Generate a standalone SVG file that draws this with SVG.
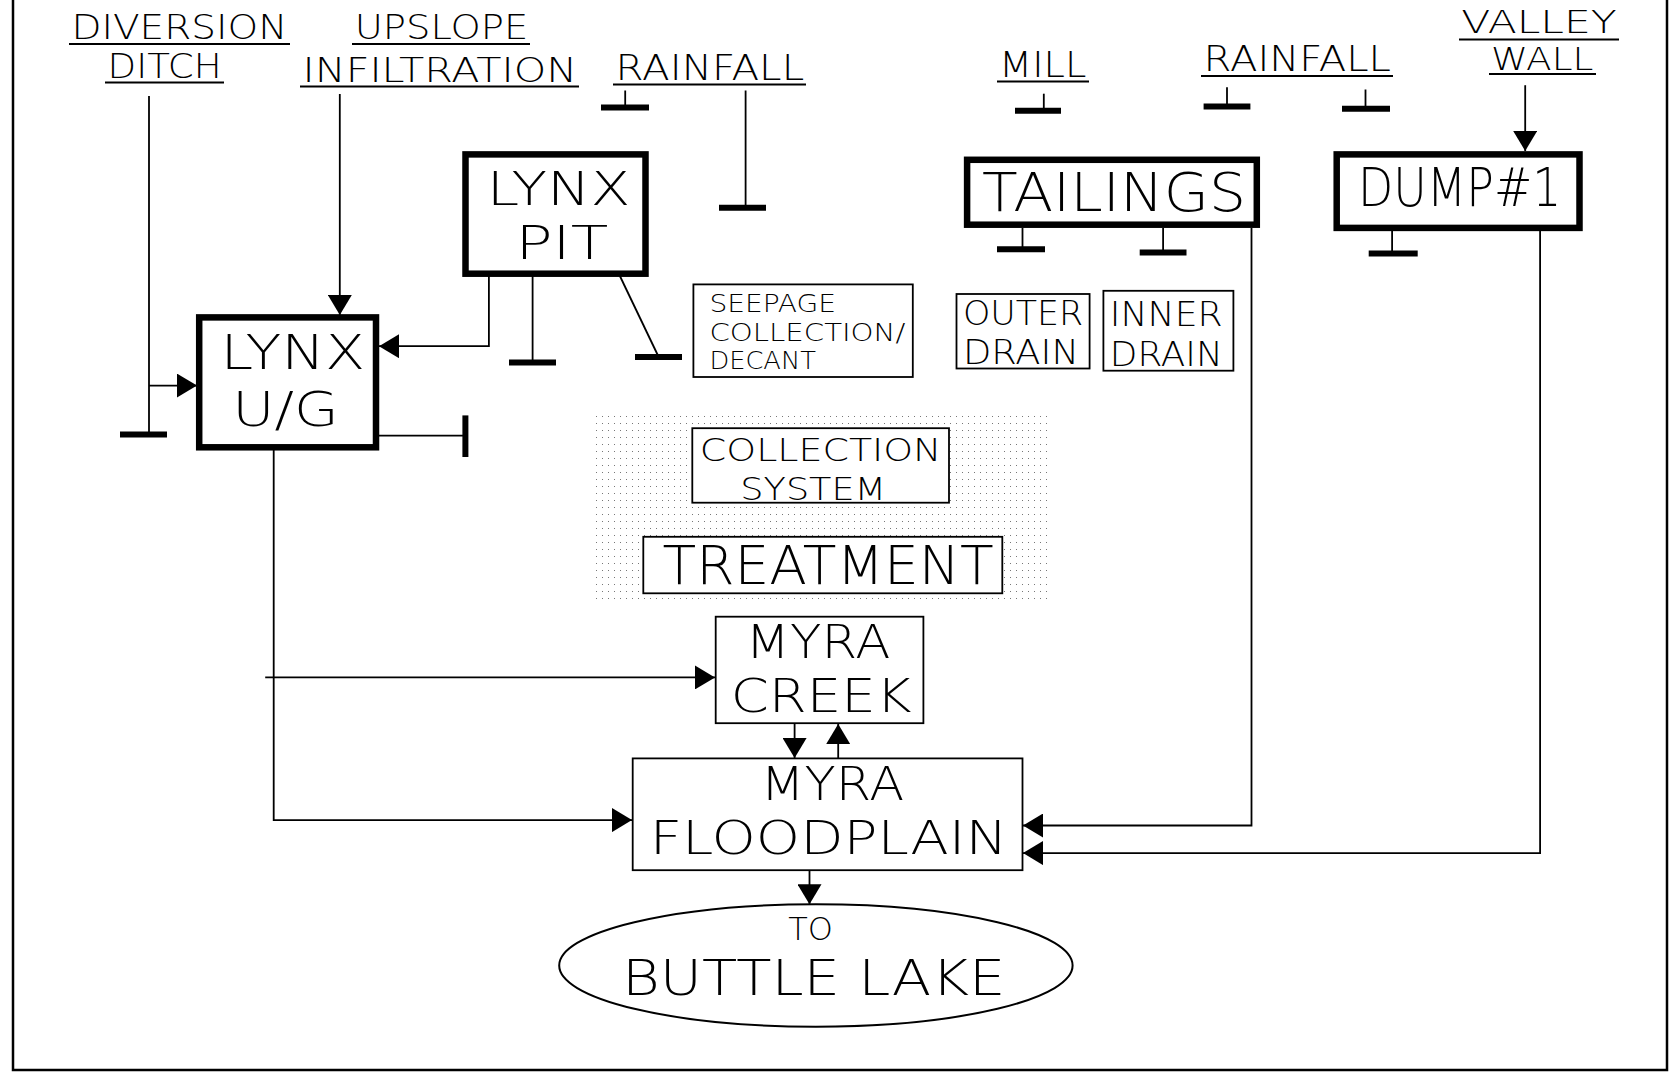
<svg xmlns="http://www.w3.org/2000/svg" width="1670" height="1075" viewBox="0 0 1670 1075">
<style>
  .t { font-family: "DejaVu Sans", "Liberation Sans", sans-serif; font-weight: 200; fill: #000; }
  .lbl { font-size: 35px; }
  .ln { stroke: #000; stroke-width: 1.8; fill: none; }
  .ul { stroke: #000; stroke-width: 2; }
  .bar { stroke: #000; stroke-width: 6; }
  .thick { fill: #fff; stroke: #000; stroke-width: 6.5; }
  .thin { fill: #fff; stroke: #000; stroke-width: 1.8; }
  .arr { stroke: #000; stroke-width: 1.8; fill: none; marker-end: url(#ah); }
</style>
<defs>
  <marker id="ah" viewBox="0 0 10 10" refX="10" refY="5" markerUnits="userSpaceOnUse" markerWidth="20" markerHeight="24" orient="auto" preserveAspectRatio="none">
    <path d="M0,0 L10,5 L0,10 z" fill="#000"/>
  </marker>
  <pattern id="dots" width="6" height="7" patternUnits="userSpaceOnUse">
    <rect x="2" y="3" width="1" height="1" fill="#777"/>
  </pattern>
</defs>
<rect width="1670" height="1075" fill="#fff"/>
<path d="M13,0 V1070 H1667 V0" stroke="#000" stroke-width="2.5" fill="none"/>

<g id="labels">
  <text class="t" font-size="33.5" x="71.4" y="38.5" textLength="216" lengthAdjust="spacingAndGlyphs">DIVERSION</text>
  <text class="t" font-size="33.5" x="107.6" y="78" textLength="114" lengthAdjust="spacingAndGlyphs">DITCH</text>
  <line class="ul" x1="69" y1="44" x2="290" y2="44"/>
  <line class="ul" x1="105" y1="82.5" x2="224" y2="82.5"/>
  <text class="t" font-size="34" x="354.7" y="39.4" textLength="173.6" lengthAdjust="spacingAndGlyphs">UPSLOPE</text>
  <text class="t" font-size="34" x="302.5" y="82" textLength="274.8" lengthAdjust="spacingAndGlyphs">INFILTRATION</text>
  <line class="ul" x1="352" y1="44" x2="530" y2="44"/>
  <line class="ul" x1="300" y1="86.5" x2="579" y2="86.5"/>
  <text class="t lbl" x="615.6" y="79.9" textLength="188.6" lengthAdjust="spacingAndGlyphs">RAINFALL</text>
  <line class="ul" x1="613" y1="84.5" x2="806" y2="84.5"/>
  <text class="t lbl" x="999.1" y="76.7" textLength="87.3" lengthAdjust="spacingAndGlyphs">MILL</text>
  <line class="ul" x1="997" y1="81.5" x2="1089" y2="81.5"/>
  <text class="t lbl" x="1203.6" y="71.4" textLength="187.4" lengthAdjust="spacingAndGlyphs">RAINFALL</text>
  <line class="ul" x1="1201" y1="76" x2="1393" y2="76"/>
  <text class="t" font-size="31.5" x="1461.3" y="33" textLength="155.5" lengthAdjust="spacingAndGlyphs">VALLEY</text>
  <text class="t" font-size="31.5" x="1491.1" y="70" textLength="102.3" lengthAdjust="spacingAndGlyphs">WALL</text>
  <line class="ul" x1="1459" y1="39.5" x2="1619" y2="39.5"/>
  <line class="ul" x1="1489" y1="74" x2="1596" y2="74"/>
</g>

<g id="collection-area">
  <rect x="593" y="412" width="456" height="191" fill="url(#dots)"/>
</g>

<g id="connectors">
  <line class="ln" x1="149" y1="96" x2="149" y2="434"/>
  <line class="bar" x1="120" y1="434.6" x2="167" y2="434.6"/>
  <line class="arr" x1="149" y1="385.6" x2="197" y2="385.6"/>
  <line class="arr" x1="339.8" y1="94" x2="339.8" y2="315"/>
  <polyline class="arr" points="488.9,276 488.9,346.2 379,346.2"/>
  <line class="ln" x1="532.6" y1="276" x2="532.6" y2="362"/>
  <line class="bar" x1="509" y1="362.5" x2="556" y2="362.5"/>
  <line class="ln" x1="619.9" y1="276" x2="658.2" y2="356"/>
  <line class="bar" x1="635" y1="357" x2="682" y2="357"/>
  <line class="ln" x1="625.2" y1="90.5" x2="625.2" y2="107"/>
  <line class="bar" x1="601" y1="107.6" x2="649" y2="107.6"/>
  <line class="ln" x1="745.6" y1="90.5" x2="745.6" y2="207"/>
  <line class="bar" x1="719" y1="207.7" x2="766" y2="207.7"/>
  <line class="ln" x1="378" y1="435.6" x2="465" y2="435.6"/>
  <line class="bar" x1="465.4" y1="415.4" x2="465.4" y2="457"/>
  <polyline class="arr" points="273.7,450 273.7,820.1 632,820.1"/>
  <line class="arr" x1="265.2" y1="677.4" x2="715" y2="677.4"/>
  <line class="arr" x1="794.6" y1="723.2" x2="794.6" y2="758"/>
  <line class="arr" x1="838.2" y1="758.4" x2="838.2" y2="724"/>
  <line class="arr" x1="809.5" y1="870.2" x2="809.5" y2="904.3"/>
  <polyline class="arr" points="1251.5,228 1251.5,825.5 1023,825.5"/>
  <polyline class="arr" points="1540.1,231 1540.1,853.1 1023,853.1"/>
  <line class="arr" x1="1525.2" y1="85.2" x2="1525.2" y2="151"/>
  <line class="ln" x1="1043.8" y1="93.7" x2="1043.8" y2="110"/>
  <line class="bar" x1="1015" y1="110.8" x2="1061" y2="110.8"/>
  <line class="ln" x1="1227" y1="87.3" x2="1227" y2="106"/>
  <line class="bar" x1="1203.6" y1="106.5" x2="1250.4" y2="106.5"/>
  <line class="ln" x1="1365.5" y1="89.5" x2="1365.5" y2="108"/>
  <line class="bar" x1="1342" y1="108.7" x2="1390" y2="108.7"/>
  <line class="ln" x1="1022.5" y1="228" x2="1022.5" y2="249"/>
  <line class="bar" x1="997" y1="249.2" x2="1045" y2="249.2"/>
  <line class="ln" x1="1163.1" y1="228" x2="1163.1" y2="252"/>
  <line class="bar" x1="1139.7" y1="252.4" x2="1186.5" y2="252.4"/>
  <line class="ln" x1="1392.1" y1="231" x2="1392.1" y2="253"/>
  <line class="bar" x1="1368.7" y1="253.5" x2="1417.7" y2="253.5"/>
</g>

<g id="lynx-pit">
  <rect class="thick" x="465.5" y="154.4" width="180" height="119.3"/>
  <text class="t" font-size="46" x="486.7" y="205" textLength="143.8" lengthAdjust="spacingAndGlyphs">LYNX</text>
  <text class="t" font-size="46" x="515.5" y="259" textLength="92.7" lengthAdjust="spacingAndGlyphs">PIT</text>
</g>
<g id="lynx-ug">
  <rect class="thick" x="199.2" y="317.4" width="176.8" height="129.9"/>
  <text class="t" font-size="48" x="220.5" y="369" textLength="144.8" lengthAdjust="spacingAndGlyphs">LYNX</text>
  <text class="t" font-size="48" x="232.2" y="426" textLength="106.5" lengthAdjust="spacingAndGlyphs">U/G</text>
</g>
<g id="seepage">
  <rect class="thin" x="693.4" y="284.4" width="219.4" height="92.6"/>
  <text class="t" font-size="24" x="709.4" y="312" textLength="126.7" lengthAdjust="spacingAndGlyphs">SEEPAGE</text>
  <text class="t" font-size="24" x="709.4" y="340.5" textLength="195.9" lengthAdjust="spacingAndGlyphs">COLLECTION/</text>
  <text class="t" font-size="24" x="709.4" y="369" textLength="106.5" lengthAdjust="spacingAndGlyphs">DECANT</text>
</g>
<g id="tailings">
  <rect class="thick" x="967.1" y="159.8" width="289.7" height="64.9"/>
  <text class="t" font-size="53" x="982" y="210.9" textLength="264" lengthAdjust="spacingAndGlyphs">TAILINGS</text>
</g>
<g id="dump1">
  <rect class="thick" x="1336.7" y="154.4" width="242.8" height="73.5"/>
  <text class="t" font-size="53" x="1358" y="205.6" textLength="203.4" lengthAdjust="spacingAndGlyphs">DUMP#1</text>
</g>
<g id="outer-drain">
  <rect class="thin" x="956.5" y="294" width="133.1" height="74.5"/>
  <text class="t" font-size="33" x="962.9" y="325" textLength="120.3" lengthAdjust="spacingAndGlyphs">OUTER</text>
  <text class="t" font-size="33" x="962.9" y="364" textLength="116.1" lengthAdjust="spacingAndGlyphs">DRAIN</text>
</g>
<g id="inner-drain">
  <rect class="thin" x="1103.4" y="290.8" width="130" height="79.9"/>
  <text class="t" font-size="34" x="1109.8" y="325.9" textLength="112.9" lengthAdjust="spacingAndGlyphs">INNER</text>
  <text class="t" font-size="34" x="1109.8" y="366.4" textLength="112.9" lengthAdjust="spacingAndGlyphs">DRAIN</text>
</g>
<g id="collection-system">
  <rect class="thin" x="692.3" y="428.2" width="256.7" height="74.5"/>
  <text class="t" font-size="32.5" x="699.8" y="461" textLength="241.7" lengthAdjust="spacingAndGlyphs">COLLECTION</text>
  <text class="t" font-size="32.5" x="740.3" y="499.5" textLength="145.9" lengthAdjust="spacingAndGlyphs">SYSTEM</text>
</g>
<g id="treatment">
  <rect class="thin" x="643.3" y="536.8" width="359" height="56.5"/>
  <text class="t" font-size="53" x="662.5" y="583.7" textLength="331.2" lengthAdjust="spacingAndGlyphs">TREATMENT</text>
</g>
<g id="myra-creek">
  <rect class="thin" x="715.7" y="616.7" width="207.7" height="106.5"/>
  <text class="t" font-size="46" x="745.6" y="658" textLength="144.8" lengthAdjust="spacingAndGlyphs">MYRA</text>
  <text class="t" font-size="46" x="730.7" y="712" textLength="181" lengthAdjust="spacingAndGlyphs">CREEK</text>
</g>
<g id="myra-floodplain">
  <rect class="thin" x="632.7" y="758.4" width="389.8" height="111.8"/>
  <text class="t" font-size="46" x="760.5" y="800" textLength="143.8" lengthAdjust="spacingAndGlyphs">MYRA</text>
  <text class="t" font-size="46" x="649.7" y="854" textLength="357.9" lengthAdjust="spacingAndGlyphs">FLOODPLAIN</text>
</g>
<g id="buttle-lake">
  <ellipse cx="815.9" cy="965.5" rx="256.7" ry="61.2" fill="#fff" stroke="#000" stroke-width="2"/>
  <text class="t" font-size="32" x="788.2" y="940" textLength="44.7" lengthAdjust="spacingAndGlyphs">TO</text>
  <text class="t" font-size="50" x="622" y="995" textLength="383.5" lengthAdjust="spacingAndGlyphs">BUTTLE LAKE</text>
</g>
</svg>
